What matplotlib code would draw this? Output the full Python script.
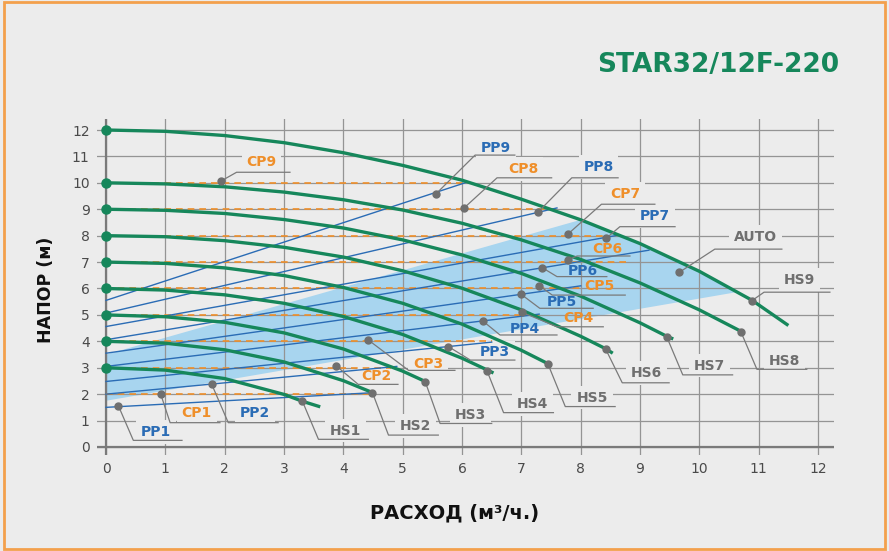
import matplotlib
matplotlib.use("Agg")
import matplotlib.pyplot as plt
from matplotlib.patches import Rectangle, Polygon

# --- data
# HS speed curves: (x points, head points)
HS_NAMES = ["HS1", "HS2", "HS3", "HS4", "HS5", "HS6", "HS7", "HS8", "HS9"]
HS_X = [
    [0, 1, 2, 3, 3.31, 3.61],
    [0, 1, 2, 3, 4, 4.49],
    [0, 1, 2, 3, 4, 5, 5.38],
    [0, 1, 2, 3, 4, 5, 6, 6.42, 6.53],
    [0, 1, 2, 3, 4, 5, 6, 7, 7.46],
    [0, 1, 2, 3, 4, 5, 6, 7, 8, 8.42, 8.54],
    [0, 1, 2, 3, 4, 5, 6, 7, 8, 9, 9.45, 9.56],
    [0, 1, 2, 3, 4, 5, 6, 7, 8, 9, 10, 10.7],
    [0, 1, 2, 3, 4, 5, 6, 7, 8, 9, 10, 10.89, 11.5],
]
HS_Y = [
    [3, 2.91, 2.59, 1.99, 1.73, 1.52],
    [4, 3.93, 3.68, 3.22, 2.51, 2.06],
    [5, 4.93, 4.72, 4.32, 3.71, 2.87, 2.48],
    [6, 5.94, 5.76, 5.44, 4.94, 4.26, 3.36, 2.92, 2.8],
    [7, 6.95, 6.78, 6.49, 6.04, 5.44, 4.65, 3.66, 3.14],
    [8, 7.96, 7.81, 7.56, 7.19, 6.67, 6.01, 5.19, 4.19, 3.72, 3.55],
    [9, 8.96, 8.84, 8.61, 8.29, 7.84, 7.27, 6.57, 5.71, 4.7, 4.19, 4.09],
    [10, 9.96, 9.85, 9.65, 9.36, 8.97, 8.47, 7.84, 7.1, 6.21, 5.19, 4.38],
    [12, 11.95, 11.79, 11.52, 11.14, 10.66, 10.1, 9.38, 8.6, 7.7, 6.65, 5.55, 4.6],
]

# proportional pressure lines PP1..PP9
PP_START = [1.5, 2.0, 2.48, 3.05, 3.55, 4.06, 4.56, 5.07, 5.55]
PP_END_X = [4.45, 4.9, 6.5, 7.3, 8.0, 9.15, 8.66, 7.6, 6.05]
PP_END_Y = [2.05, 3.05, 3.97, 5.03, 6.1, 7.45, 8.03, 9.05, 10.0]

# constant pressure lines CP1..CP9
CP_HEAD = [2, 3, 4, 5, 6, 7, 8, 9, 10]
CP_END_X = [4.45, 4.8, 6.5, 7.3, 8.0, 8.8, 8.5, 7.6, 6.0]

# AUTO zone
AUTO_X = [0, 8.0, 9, 10, 10.6, 0]
AUTO_Y = [3.5, 8.6, 7.7, 6.65, 5.85, 1.75]

# callouts: name, kind, dot, elbow, line end x, text pos, box behind text
LABELS = [
    ("PP1", "pp", (0.21, 1.55), (0.46, 0.25), 1.28, (0.84, 0.58), True),
    ("CP1", "cp", (0.92, 2.01), (1.08, 0.92), 1.92, (1.53, 1.29), True),
    ("PP2", "pp", (1.78, 2.38), (2.06, 0.92), 2.90, (2.51, 1.29), True),
    ("HS1", "hs", (3.31, 1.73), (3.58, 0.29), 4.42, (4.03, 0.62), True),
    ("HS2", "hs", (4.49, 2.06), (4.76, 0.45), 5.60, (5.22, 0.79), True),
    ("CP2", "cp", (3.88, 3.07), (4.25, 2.37), 4.92, (4.56, 2.69), True),
    ("CP3", "cp", (4.42, 4.05), (5.10, 2.90), 5.88, (5.43, 3.16), True),
    ("HS3", "hs", (5.38, 2.47), (5.63, 0.89), 6.50, (6.14, 1.21), True),
    ("PP3", "pp", (5.77, 3.80), (6.14, 3.29), 6.89, (6.56, 3.58), True),
    ("HS4", "hs", (6.42, 2.89), (6.70, 1.30), 7.54, (7.18, 1.63), True),
    ("PP4", "pp", (6.35, 4.77), (6.64, 4.24), 7.60, (7.06, 4.45), False),
    ("CP4", "cp", (7.01, 5.10), (7.60, 4.55), 8.38, (7.96, 4.87), False),
    ("HS5", "hs", (7.45, 3.13), (7.74, 1.53), 8.58, (8.19, 1.87), True),
    ("PP5", "pp", (6.99, 5.79), (7.31, 5.25), 8.21, (7.68, 5.50), False),
    ("HS6", "hs", (8.42, 3.71), (8.70, 2.43), 9.49, (9.11, 2.79), True),
    ("HS7", "hs", (9.45, 4.17), (9.72, 2.73), 10.56, (10.17, 3.08), True),
    ("HS8", "hs", (10.70, 4.36), (10.97, 2.94), 11.81, (11.43, 3.27), True),
    ("HS9", "hs", (10.88, 5.53), (11.09, 5.86), 12.20, (11.69, 6.32), True),
    ("AUTO", "hs", (9.66, 6.61), (10.26, 7.49), 11.39, (10.94, 7.96), True),
    ("CP5", "cp", (7.30, 6.11), (7.52, 5.75), 8.75, (8.31, 6.09), False),
    ("PP6", "pp", (7.35, 6.79), (7.60, 6.45), 8.44, (8.03, 6.66), False),
    ("CP6", "cp", (7.78, 7.08), (7.94, 7.23), 8.83, (8.44, 7.49), False),
    ("PP7", "pp", (8.43, 7.90), (8.66, 8.34), 9.59, (9.25, 8.74), True),
    ("CP7", "cp", (7.78, 8.05), (8.35, 9.19), 9.25, (8.75, 9.58), True),
    ("PP8", "pp", (7.28, 8.89), (7.85, 10.19), 8.63, (8.30, 10.61), True),
    ("CP8", "cp", (6.04, 9.06), (6.59, 10.19), 7.51, (7.03, 10.51), True),
    ("PP9", "pp", (5.56, 9.58), (6.22, 11.05), 6.89, (6.57, 11.31), True),
    ("CP9", "cp", (1.94, 10.07), (2.20, 10.40), 3.10, (2.62, 10.78), True),
]

BG = "#ececec"
GREEN = "#16875b"
BLUE = "#2a6cb5"
ORANGE = "#ef8f2a"
GREY = "#6f6f6f"
FILL = "#a8d5ef"
TEXT_COLORS = {"pp": BLUE, "cp": ORANGE, "hs": GREY}

plt.rcParams["font.family"] = ["DejaVu Sans"]

fig = plt.figure(figsize=(8.89, 5.51), dpi=100, facecolor=BG)
ax = fig.add_axes([0.1086, 0.1744, 0.8296, 0.6098])
ax.set_facecolor(BG)
ax.set_xlim(-0.16, 12.27)
ax.set_ylim(-0.3, 12.42)

# grid
ax.set_xticks(range(13))
ax.set_yticks(range(13))
ax.grid(True, color="#949494", lw=0.9, zorder=1)
ax.set_axisbelow(True)
ax.axvline(0, color="#7a7a7a", lw=1.6, zorder=1.2)
ax.axhline(0, color="#7a7a7a", lw=1.6, zorder=1.2)
for sp in ax.spines.values():
    sp.set_visible(False)
ax.tick_params(length=0, labelsize=10, labelcolor="#4a4a4a")
ax.tick_params(axis="x", pad=5)
ax.tick_params(axis="y", pad=5)

# AUTO zone
ax.add_patch(Polygon(list(zip(AUTO_X, AUTO_Y)), closed=True, facecolor=FILL,
                     edgecolor="none", zorder=0.5))

# CP dashed lines
for h, xe in zip(CP_HEAD, CP_END_X):
    ax.plot([0, xe], [h, h], color=ORANGE, lw=1.2, ls=(0, (4, 3)), zorder=2)

# PP lines
for y0, xe, ye in zip(PP_START, PP_END_X, PP_END_Y):
    ax.plot([0, xe], [y0, ye], color=BLUE, lw=1.0, zorder=2.5)

# HS curves
for xs, ys in zip(HS_X, HS_Y):
    ax.plot(xs, ys, color=GREEN, lw=2.4, solid_capstyle="butt", zorder=3)
    ax.plot(xs[0], ys[0], "o", color=GREEN, ms=6.5, zorder=3.5)

# callouts (text boxes only cut the grid, lines stay on top)
for name, kind, dot, elbow, xe, tpos, box in LABELS:
    ax.plot([dot[0], elbow[0], xe], [dot[1], elbow[1], elbow[1]],
            color="#7a7a7a", lw=0.9, zorder=4)
    ax.plot(dot[0], dot[1], "o", color=GREY, ms=5, zorder=4.5)
    bbox = dict(boxstyle="square,pad=0.35", fc=BG, ec="none") if box else None
    ax.text(tpos[0], tpos[1], name, color=TEXT_COLORS[kind], fontsize=10,
            fontweight="bold", ha="center", va="center", bbox=bbox, zorder=1.5,
            clip_on=False)

ax.set_xlabel("РАСХОД (м³/ч.)", fontsize=14, fontweight="bold", color="#111111")
ax.xaxis.set_label_coords(0.486, -0.143)
ax.set_ylabel("НАПОР (м)", fontsize=12.5, fontweight="bold", color="#111111")
ax.yaxis.set_label_coords(-0.056, 0.49)

fig.text(0.8076, 0.882, "STAR32/12F-220", color=GREEN, fontsize=19,
         fontweight="bold", ha="center", va="center")

fig.patches.append(Rectangle((0.005, 0.003), 0.991, 0.994, transform=fig.transFigure,
                             fill=False, edgecolor="#f3a04c", lw=2))

fig.savefig("out.png", dpi=100, facecolor=BG)
